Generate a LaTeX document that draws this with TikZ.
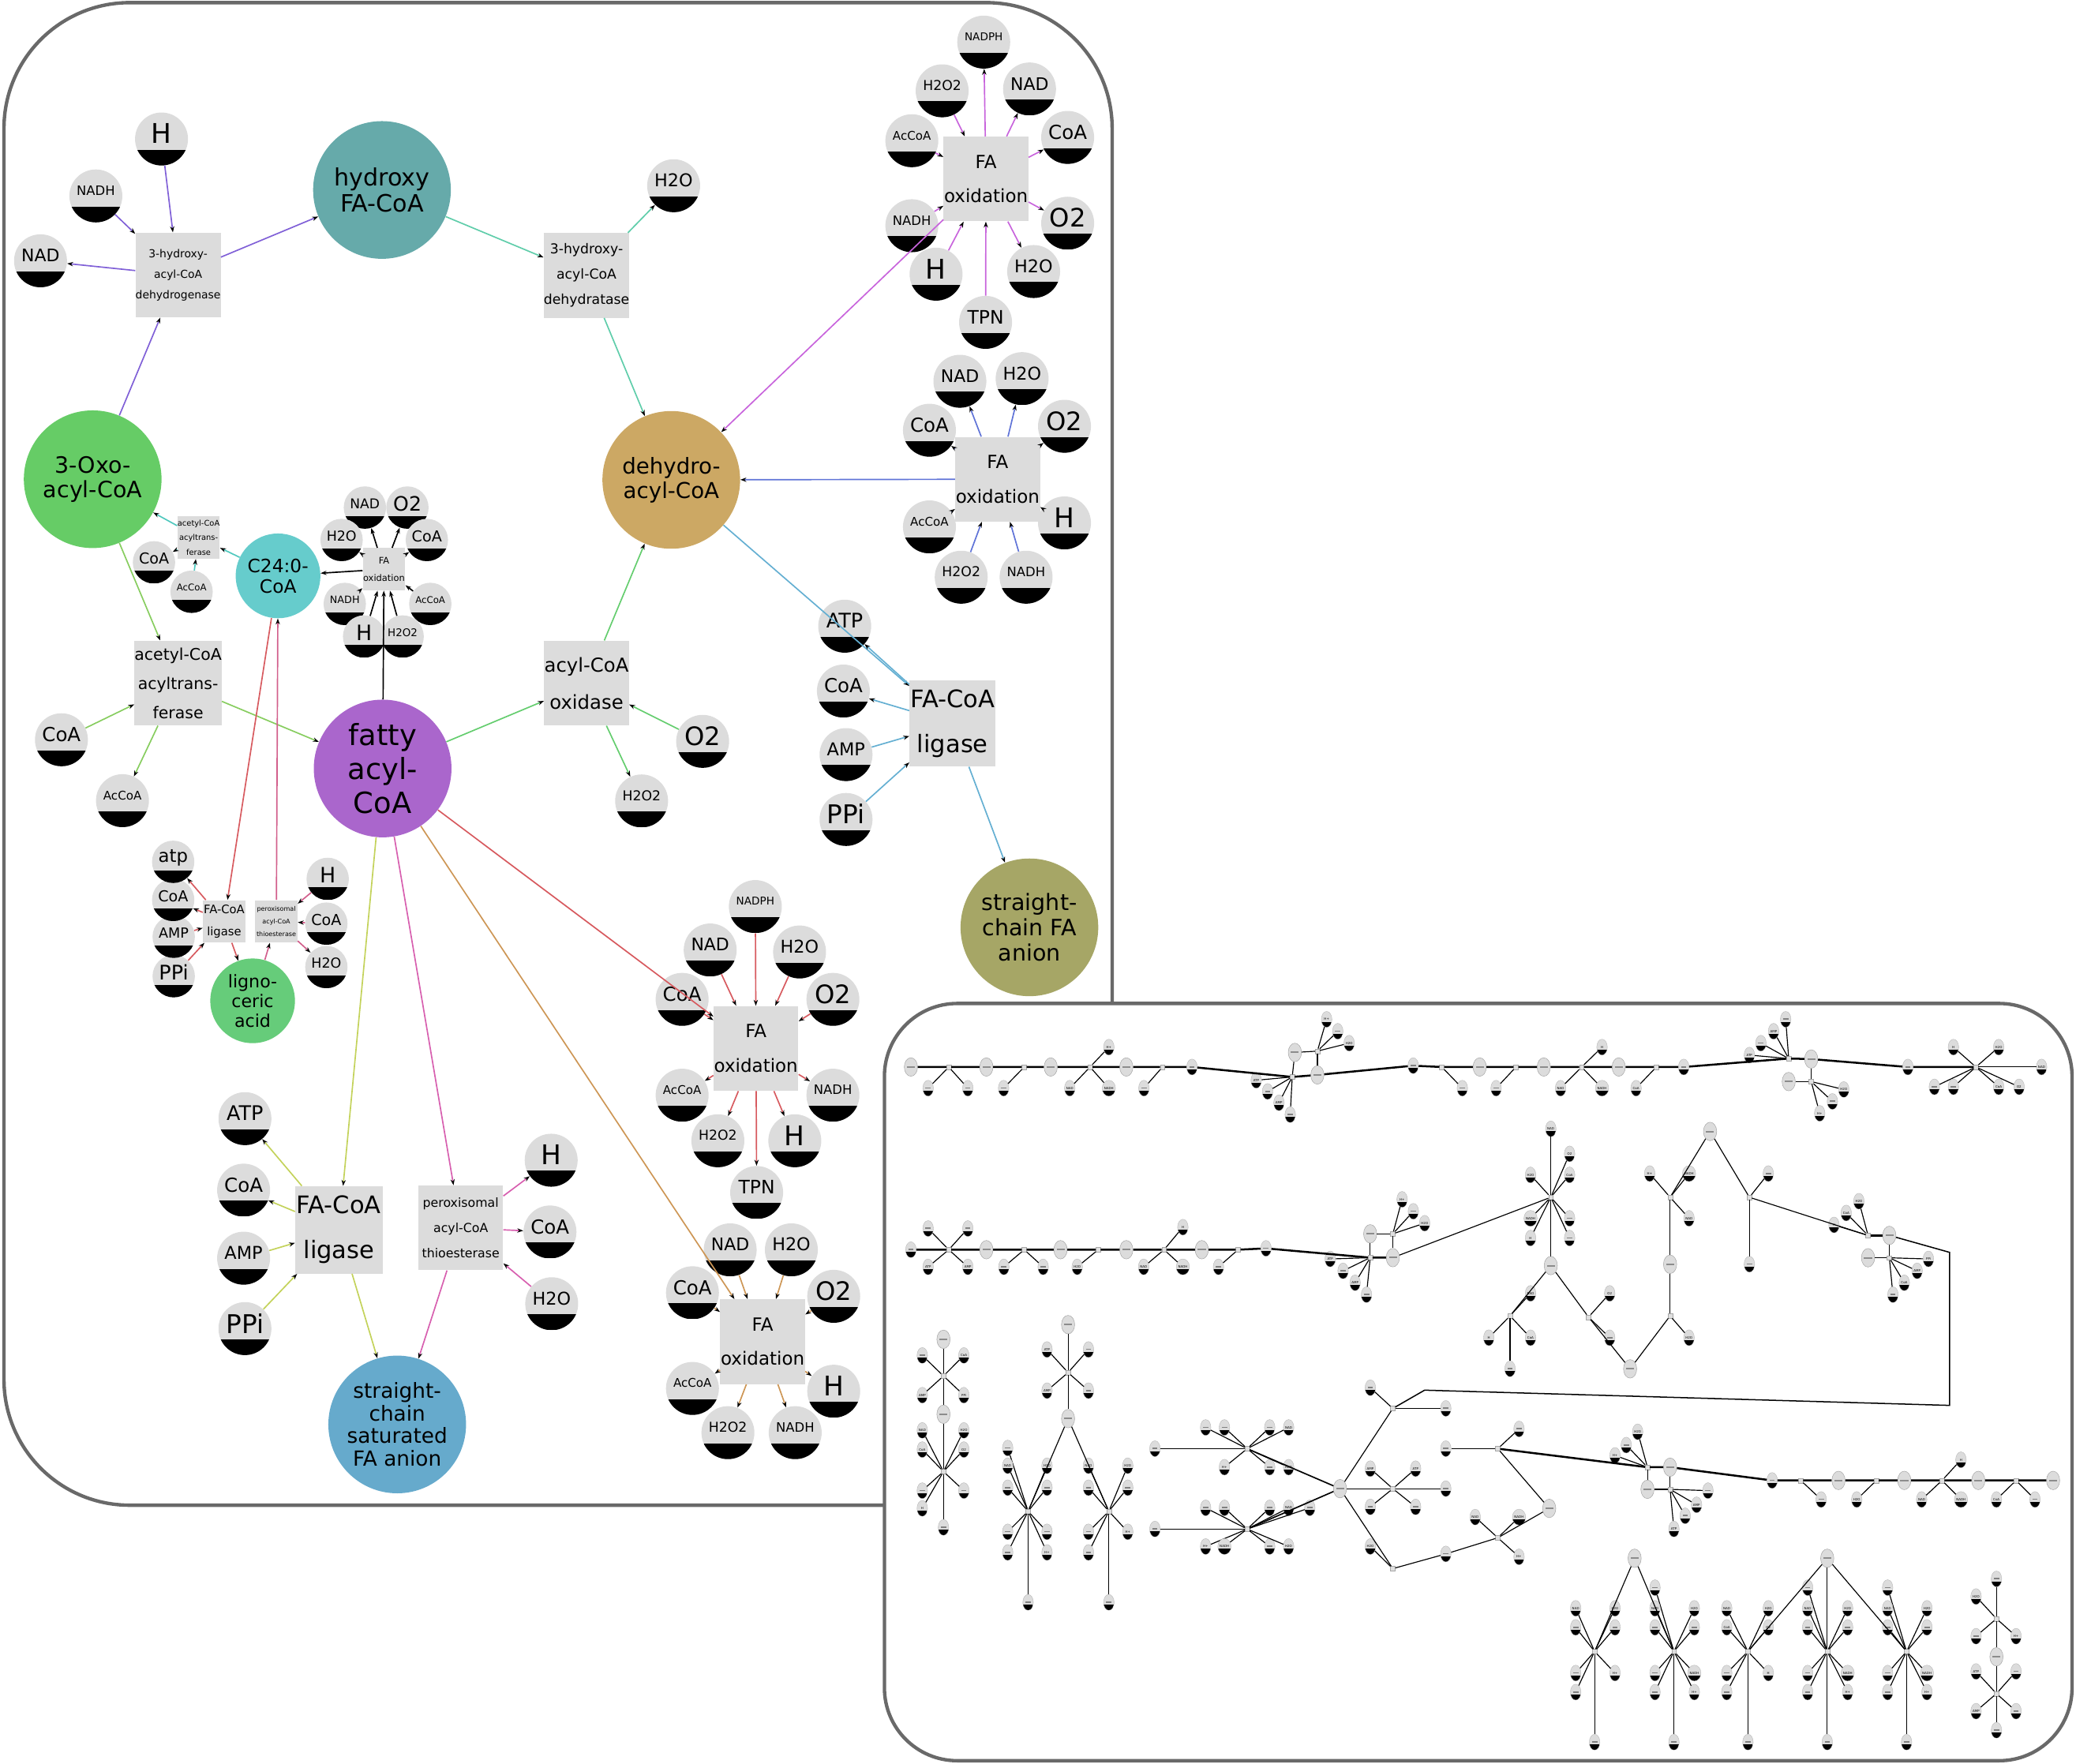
\documentclass[tikz,border=0pt]{standalone}
\usepackage{fontspec}
\setmainfont{DejaVu Sans}
\usetikzlibrary{shapes.geometric,arrows.meta,calc}
\definecolor{mgray}{RGB}{220,220,220}
\definecolor{frameg}{RGB}{105,105,105}
\definecolor{cHyd}{RGB}{102,170,170}
\definecolor{cOxo}{RGB}{102,204,102}
\definecolor{cDeh}{RGB}{204,168,100}
\definecolor{cFat}{RGB}{170,102,204}
\definecolor{cCtf}{RGB}{102,204,204}
\definecolor{cLig}{RGB}{102,204,122}
\definecolor{cAni}{RGB}{166,166,102}
\definecolor{cSat}{RGB}{102,170,204}
\definecolor{ePur}{RGB}{128,96,215}
\definecolor{eTeal}{RGB}{95,205,170}
\definecolor{eMag}{RGB}{200,100,220}
\definecolor{eBlue}{RGB}{95,115,215}
\definecolor{eLB}{RGB}{100,175,210}
\definecolor{eGreen}{RGB}{100,205,110}
\definecolor{eLG}{RGB}{135,205,95}
\definecolor{eTeal2}{RGB}{80,200,190}
\definecolor{eRed}{RGB}{215,90,95}
\definecolor{ePink}{RGB}{210,95,140}
\definecolor{ePink2}{RGB}{215,95,175}
\definecolor{eYG}{RGB}{195,210,90}
\definecolor{eOr}{RGB}{205,150,85}
\tikzset{
 blackbottom/.style={path picture={\fill[black] (path picture bounding box.south west) rectangle ($(path picture bounding box.east)!#1!(path picture bounding box.south east)$);}},
 met/.style={circle, fill=mgray, inner sep=0pt, minimum size=40pt, blackbottom=0.4},
 smet/.style={met, minimum size=32pt},
 mtext/.style={inner sep=0pt},
 big/.style={circle, inner sep=0pt, minimum size=104pt, align=center},
 rxn/.style={rectangle, fill=mgray, inner sep=0pt, minimum width=64pt, minimum height=64pt, align=center},
 srxn/.style={rxn, minimum width=32pt, minimum height=32pt},
 edg/.style={line width=1pt, -{Stealth[length=4.5pt,width=3.2pt,black]}},
 frame/.style={line width=2.6pt, draw=frameg},
 isat/.style={ellipse, fill=mgray, draw=gray!60, line width=0.2pt, inner sep=0pt, minimum width=8pt, minimum height=12pt, blackbottom=0.3, font=\fontsize{2.4}{2.4}\selectfont},
 imet/.style={ellipse, fill=mgray, draw=gray!70, line width=0.3pt, inner sep=0pt, minimum width=10pt, minimum height=14pt, path picture={\fill[gray!90] ($(path picture bounding box.center)+(-3pt,-0.6pt)$) rectangle ($(path picture bounding box.center)+(3pt,0.6pt)$);}},
 irx/.style={rectangle, fill=gray!25, draw=gray!70, line width=0.2pt, inner sep=0pt, minimum size=3.5pt},
 iedge/.style={line width=0.7pt, black},
 ichain/.style={line width=1.5pt, black},
}
\newcommand\Bq{\textcolor{gray}{\rule[0.3pt]{4pt}{1pt}}}
\newcommand\mt[5]{\node[met] (#1) at (#2,#3) {};\node[mtext,font=\fontsize{#5}{#5}\selectfont] (#1t) at ([yshift=4pt]#1.center) {#4};}
\newcommand\smt[5]{\node[smet] (#1) at (#2,#3) {};\node[mtext,font=\fontsize{#5}{#5}\selectfont] (#1t) at ([yshift=3pt]#1.center) {#4};}
\newcommand\conn[3]{\draw[edg,#1] (#2) -- (#3);}
\newcommand\hub[4]{%
 \node[irx] (#1) at (#2,#3) {};
 \foreach \sx/\sy/\sl [count=\k] in {#4}{%
  \node[isat] (#1s\k) at (\sx,\sy) {\sl};
  \draw[iedge] (#1) -- (#1s\k);
 }%
}
\begin{document}
\begin{tikzpicture}[x=1pt,y=-1pt]
\useasboundingbox (0,0) rectangle (1568,1332);
\draw[frame, rounded corners=95pt] (3,2) rectangle (840,1137);

% ---------- big metabolites
\node[big, fill=cHyd, font=\fontsize{18}{20}\selectfont] (hyd) at (288.5,143.5) {hydroxy\\FA-CoA};
\node[big, fill=cOxo, font=\fontsize{17}{18.5}\selectfont] (oxo) at (70,362) {3-Oxo-\\acyl-CoA};
\node[big, fill=cDeh, font=\fontsize{16.5}{18.5}\selectfont] (deh) at (507,362.5) {dehydro-\\acyl-CoA};
\node[big, fill=cFat, font=\fontsize{22}{25.5}\selectfont] (fat) at (289,580.5) {fatty\\acyl-\\CoA};
\node[big, minimum size=64pt, fill=cCtf, font=\fontsize{13.9}{15.5}\selectfont] (ctf) at (210,435) {C24:0-\\CoA};
\node[big, minimum size=64pt, fill=cLig, font=\fontsize{13.2}{15}\selectfont] (lig) at (190.8,756) {ligno-\\ceric\\acid};
\node[big, fill=cAni, font=\fontsize{17}{19}\selectfont] (ani) at (777.5,700.5) {straight-\\chain FA\\anion};
\node[big, fill=cSat, font=\fontsize{15.7}{17}\selectfont] (sat) at (300,1076) {straight-\\chain\\saturated\\FA anion};

% ---------- reactions
\node[rxn, font=\fontsize{8.3}{15.5}\selectfont] (r1) at (134.5,207.7) {3-hydroxy-\\acyl-CoA\\dehydrogenase};
\node[rxn, font=\fontsize{10.3}{19}\selectfont] (r2) at (443,208) {3-hydroxy-\\acyl-CoA\\dehydratase};
\node[rxn, font=\fontsize{13.7}{26}\selectfont] (r3) at (744.7,135.2) {FA\\oxidation};
\node[rxn, font=\fontsize{13.7}{26}\selectfont] (r4) at (753.5,362) {FA\\oxidation};
\node[rxn, minimum width=65pt, minimum height=65pt, font=\fontsize{18.2}{34}\selectfont] (r5) at (719.5,546.5) {FA-CoA\\ligase};
\node[rxn, font=\fontsize{14.5}{28}\selectfont] (r6) at (443,516) {acyl-CoA\\oxidase};
\node[rxn, font=\fontsize{12.2}{22}\selectfont] (r8) at (134.5,516) {acetyl-CoA\\acyltrans-\\ferase};
\node[rxn, minimum width=66pt, minimum height=66pt, font=\fontsize{18.2}{34}\selectfont] (r7) at (256,929) {FA-CoA\\ligase};
\node[rxn, font=\fontsize{9.4}{19}\selectfont] (r9) at (348,927.5) {peroxisomal\\acyl-CoA\\thioesterase};
\node[rxn, font=\fontsize{13.7}{26}\selectfont] (r14) at (571,792) {FA\\oxidation};
\node[rxn, font=\fontsize{13.7}{26}\selectfont] (r15) at (576,1013.5) {FA\\oxidation};
\node[srxn, font=\fontsize{6.8}{13}\selectfont] (r10) at (290,430) {FA\\oxidation};
\node[srxn, font=\fontsize{5.9}{11}\selectfont] (r11) at (150,406) {acetyl-CoA\\acyltrans-\\ferase};
\node[srxn, font=\fontsize{8.8}{17}\selectfont] (r12) at (169.3,696) {FA-CoA\\ligase};
\node[srxn, font=\fontsize{4.8}{9.5}\selectfont] (r13) at (208.7,696) {peroxisomal\\acyl-CoA\\thioesterase};

% ---------- small metabolites
\mt{aH}{122}{105}{H}{20.5}
\mt{aNADH}{72.4}{148}{NADH}{9.8}
\mt{aNAD}{30.6}{197}{NAD}{13.1}
\mt{bHHO}{508.8}{140.3}{H2O}{13.3}
% R3
\mt{cNADPH}{743}{31.8}{NADPH}{8.1}
\mt{cHOO}{711.6}{68.6}{H2O2}{10.3}
\mt{cNAD}{777.6}{67.2}{NAD}{13.1}
\mt{cAc}{688.7}{106.3}{AcCoA}{9}
\mt{cCoA}{806.4}{103.8}{CoA}{14.6}
\mt{cNADH}{688.7}{170.5}{NADH}{9.8}
\mt{cOO}{806.4}{168.6}{O2}{19.2}
\mt{cH}{707}{207.1}{H}{20.5}
\mt{cHHO}{780.7}{205.1}{H2O}{13.3}
\mt{cTPN}{744.4}{243.5}{TPN}{14}
% R4
\mt{dNAD}{725}{288}{NAD}{13.1}
\mt{dHHO}{772}{286}{H2O}{13.3}
\mt{dCoA}{702}{325}{CoA}{14.6}
\mt{dOO}{804}{322}{O2}{19.2}
\mt{dAc}{702}{398}{AcCoA}{9}
\mt{dH}{804}{395}{H}{20.5}
\mt{dHOO}{726}{436}{H2O2}{10.3}
\mt{dNADH}{775}{436}{NADH}{9.8}
% R5
\mt{eATP}{638}{473}{ATP}{15.2}
\mt{eCoA}{637}{522}{CoA}{14.6}
\mt{eAMP}{639}{570}{AMP}{13.4}
\mt{ePPi}{639}{619}{PPi}{19.5}
% R6
\mt{fOO}{530.7}{560}{O2}{19.2}
\mt{fHOO}{484.6}{605}{H2O2}{10.3}
% R8
\mt{gCoA}{46.4}{558.8}{CoA}{14.6}
\mt{gAc}{92.5}{604.8}{AcCoA}{9}
% R7
\mt{hATP}{185}{845}{ATP}{15.2}
\mt{hCoA}{184}{899}{CoA}{14.6}
\mt{hAMP}{184}{950.4}{AMP}{13.4}
\mt{hPPi}{185}{1003.6}{PPi}{19.5}
% R9
\mt{iH}{416.3}{876.4}{H}{20.5}
\mt{iCoA}{415.4}{930.6}{CoA}{14.6}
\mt{iHHO}{416.7}{984.8}{H2O}{13.3}
% R14
\mt{jNADPH}{570.5}{684.8}{NADPH}{8.1}
\mt{jNAD}{536.4}{717.6}{NAD}{13.1}
\mt{jHHO}{603.9}{719.1}{H2O}{13.3}
\mt{jCoA}{515.2}{754.9}{CoA}{14.6}
\mt{jOO}{629.1}{754.9}{O2}{19.2}
\mt{jAc}{515.2}{827.3}{AcCoA}{9}
\mt{jNADH}{629.1}{827.3}{NADH}{9.8}
\mt{jHOO}{542.2}{861.7}{H2O2}{10.3}
\mt{jH}{600.3}{861.7}{H}{20.5}
\mt{jTPN}{571.5}{900.8}{TPN}{14}
% R15
\mt{kNAD}{551.5}{944.1}{NAD}{13.1}
\mt{kHHO}{597.7}{944.1}{H2O}{13.3}
\mt{kCoA}{523}{976.5}{CoA}{14.6}
\mt{kOO}{629.7}{979.2}{O2}{19.2}
\mt{kAc}{523}{1048.8}{AcCoA}{9}
\mt{kH}{629.7}{1050.9}{H}{20.5}
\mt{kHOO}{549.8}{1082.2}{H2O2}{10.3}
\mt{kNADH}{600.6}{1082.2}{NADH}{9.8}
% R10 (small)
\smt{lNAD}{275.6}{383.4}{NAD}{10.2}
\smt{lOO}{307.7}{383.4}{O2}{15}
\smt{lHHO}{258}{407.9}{H2O}{10.4}
\smt{lCoA}{322.4}{407.9}{CoA}{11.4}
\smt{lNADH}{260.4}{456.2}{NADH}{7.6}
\smt{lAc}{325}{456.2}{AcCoA}{7}
\smt{lH}{275}{480.8}{H}{16}
\smt{lHOO}{304.1}{480.8}{H2O2}{8}
% R11
\smt{mCoA}{116.3}{424.8}{CoA}{11.4}
\smt{mAc}{144.7}{447}{AcCoA}{7}
% R12
\smt{nPPi}{131.2}{737.4}{PPi}{15.2}
\smt{nAMP}{131.2}{707.6}{AMP}{10.5}
\smt{nCoA}{130.8}{679.8}{CoA}{11.4}
\smt{natp}{130.8}{651}{atp}{13.6}
% R13
\smt{oH}{247.5}{663.9}{H}{16}
\smt{oCoA}{246.5}{697.7}{CoA}{11.4}
\smt{oHHO}{246.5}{730.5}{H2O}{10.4}

% ---------- edges
\conn{ePur}{aH}{r1}
\conn{ePur}{aNADH}{r1}
\conn{ePur}{r1}{aNAD}
\conn{ePur}{oxo}{r1}
\conn{ePur}{r1}{hyd}
\conn{eTeal}{hyd}{r2}
\conn{eTeal}{r2}{bHHO}
\conn{eTeal}{r2}{deh}
% R3
\conn{eMag}{r3}{deh}
\conn{eMag}{r3}{cNADPH}
\conn{eMag}{cHOO}{r3}
\conn{eMag}{r3}{cNAD}
\conn{eMag}{cAc}{r3}
\conn{eMag}{r3}{cCoA}
\conn{eMag}{cNADH}{r3}
\conn{eMag}{r3}{cOO}
\conn{eMag}{cH}{r3}
\conn{eMag}{r3}{cHHO}
\conn{eMag}{cTPN}{r3}
% R4
\conn{eBlue}{r4}{deh}
\conn{eBlue}{r4}{dNAD}
\conn{eBlue}{r4}{dHHO}
\conn{eBlue}{r4}{dCoA}
\conn{eBlue}{r4}{dOO}
\conn{eBlue}{dAc}{r4}
\conn{eBlue}{dH}{r4}
\conn{eBlue}{dHOO}{r4}
\conn{eBlue}{dNADH}{r4}
% R5
\conn{eLB}{deh}{r5}
\conn{eLB}{r5}{eATP}
\conn{eLB}{r5}{eCoA}
\conn{eLB}{eAMP}{r5}
\conn{eLB}{ePPi}{r5}
\conn{eLB}{r5}{ani}
% R6
\conn{eGreen}{fat}{r6}
\conn{eGreen}{r6}{deh}
\conn{eGreen}{fOO}{r6}
\conn{eGreen}{r6}{fHOO}
% R8
\conn{eLG}{oxo}{r8}
\conn{eLG}{r8}{fat}
\conn{eLG}{gCoA}{r8}
\conn{eLG}{r8}{gAc}
% R11
\conn{eTeal2}{ctf}{r11}
\conn{eTeal2}{r11}{oxo}
\conn{eTeal2}{r11}{mCoA}
\conn{eTeal2}{mAc}{r11}
% R10
\conn{black}{fat}{r10}
\conn{black}{r10}{ctf}
\conn{black}{r10}{lNAD}
\conn{black}{r10}{lOO}
\conn{black}{r10}{lHHO}
\conn{black}{r10}{lCoA}
\conn{black}{lAc}{r10}
\conn{black}{lNADH}{r10}
\conn{black}{lH}{r10}
\conn{black}{lHOO}{r10}
% R12
\conn{eRed}{ctf}{r12}
\conn{eRed}{r12}{lig}
\conn{eRed}{r12}{natp}
\conn{eRed}{r12}{nCoA}
\conn{eRed}{nAMP}{r12}
\conn{eRed}{nPPi}{r12}
% R13
\conn{ePink}{r13}{ctf}
\conn{ePink}{lig}{r13}
\conn{ePink}{oH}{r13}
\conn{ePink}{oCoA}{r13}
\conn{ePink}{r13}{oHHO}
% R14
\conn{eRed}{fat}{r14}
\conn{eRed}{jNADPH}{r14}
\conn{eRed}{jNAD}{r14}
\conn{eRed}{jHHO}{r14}
\conn{eRed}{jOO}{r14}
\conn{eRed}{jCoA}{r14}
\conn{eRed}{r14}{jAc}
\conn{eRed}{r14}{jNADH}
\conn{eRed}{r14}{jHOO}
\conn{eRed}{r14}{jH}
\conn{eRed}{r14}{jTPN}
% R15
\conn{eOr}{fat}{r15}
\conn{eOr}{kNAD}{r15}
\conn{eOr}{kHHO}{r15}
\conn{eOr}{kCoA}{r15}
\conn{eOr}{kOO}{r15}
\conn{eOr}{r15}{kAc}
\conn{eOr}{r15}{kHOO}
\conn{eOr}{r15}{kNADH}
\conn{eOr}{r15}{kH}
% R7
\conn{eYG}{fat}{r7}
\conn{eYG}{r7}{hATP}
\conn{eYG}{r7}{hCoA}
\conn{eYG}{hAMP}{r7}
\conn{eYG}{hPPi}{r7}
\conn{eYG}{r7}{sat}
% R9
\conn{ePink2}{fat}{r9}
\conn{ePink2}{r9}{iH}
\conn{ePink2}{r9}{iCoA}
\conn{ePink2}{iHHO}{r9}
\conn{ePink2}{r9}{sat}

% ================= inset
\draw[frame, fill=white, rounded corners=55pt] (668,758) rectangle (1565,1330);
% row 1
\node[imet] (a1) at (688,806) {};
\hub{ar1}{716.6}{806}{701/822/\Bq, 731/822/\Bq}
\node[imet] (a2) at (745,806) {};
\hub{ar2}{773.6}{806}{758/822/\Bq}
\node[imet] (a3) at (793.6,806) {};
\hub{ar3}{823.3}{806}{837.5/791/H+, 808/822/NAD, 837.5/822/NADH}
\node[imet] (a4) at (850.7,806) {};
\hub{ar4}{878}{806}{864/822/\Bq}
\node[isat] (a5) at (900.3,806) {\Bq};
\hub{hA}{976}{813.5}{948.8/816/ATP, 957.4/824.5/\Bq, 966/833/AMP, 974.5/842/\Bq}
\node[imet] (a6) at (995,812) {};
\node[imet] (a7) at (978,795) {};
\hub{hAb}{995}{794}{1002/770/H+, 1010.4/779/\Bq, 1019/788/H2O}
\node[isat] (a8) at (1067.4,805) {\Bq};
\draw[ichain] (a1) -- (ar1) -- (a2) -- (ar2) -- (a3) -- (ar3) -- (a4) -- (ar4) -- (a5) -- (hA) -- (a6) -- (a8);
\draw[iedge] (hA) -- (a7);
\draw[iedge] (hAb) -- (a7);
\draw[iedge] (hAb) -- (a6);
\hub{br1}{1089}{806}{1104.5/822/\Bq}
\node[imet] (b1) at (1117.6,806) {};
\hub{br2}{1145}{806}{1130/822/\Bq}
\node[imet] (b2) at (1166,806) {};
\hub{br3}{1194.6}{806}{1210/791/H, 1178.7/822/NAD, 1210/822/NADH}
\node[imet] (b3) at (1222.6,806) {};
\hub{br4}{1251}{806}{1235.7/822/CoA}
\node[isat] (b4) at (1271.7,806) {\Bq};
\hub{hB}{1351}{799.6}{1321.3/797/ATP, 1330/788/\Bq, 1339.6/779/AMP, 1348.7/770/\Bq}
\node[imet] (b5) at (1368,800) {};
\node[imet] (b6) at (1351,817) {};
\hub{hBb}{1368}{817}{1392.6/823/H2O, 1384/832/\Bq, 1374.4/841/H+}
\node[isat] (c0) at (1441,806) {\Bq};
\hub{hC}{1492.4}{806}{1475.4/791/H, 1509.6/791/H2O, 1542/806/NAD, 1461/821/\Bq, 1475.4/821/\Bq, 1509.6/821/CoA, 1525/821/O2}
\draw[ichain] (a8) -- (br1) -- (b1) -- (br2) -- (b2) -- (br3) -- (b3) -- (br4) -- (b4) -- (hB) -- (b5) -- (c0) -- (hC);
\draw[iedge] (hBb) -- (b5);
\draw[iedge] (hBb) -- (b6);
% row 2
\node[isat] (d1) at (688,944) {\Bq};
\hub{dr1}{716.6}{944}{701/928/\Bq, 731/928/\Bq, 701/957/ATP, 731/957/AMP}
\node[imet] (d2) at (745,944) {};
\hub{dr2}{773.6}{944}{758.2/957/\Bq, 787.9/957/\Bq}
\node[imet] (d3) at (801,944) {};
\hub{dr3}{829.5}{944}{813.6/957/H2O}
\node[imet] (d4) at (850.7,944) {};
\hub{dr4}{879.2}{944}{893.4/927/H, 863.8/957/NAD, 893.4/957/NADH}
\node[imet] (d5) at (907.7,944) {};
\hub{dr5}{935.1}{944}{920.3/957/\Bq}
\node[isat] (d6) at (956.2,943) {\Bq};
\hub{hD}{1034.9}{950}{1004.7/951/ATP, 1014.4/960/\Bq, 1023.5/969/AMP, 1032.1/978/\Bq}
\node[imet] (d7) at (1034.9,932) {};
\node[imet] (d8) at (1052,950) {};
\hub{hDb}{1052}{932}{1059/906/H+, 1067.5/915/\Bq, 1076/924/H2O}
\draw[ichain] (d1) -- (dr1) -- (d2) -- (dr2) -- (d3) -- (dr3) -- (d4) -- (dr4) -- (d5) -- (dr5) -- (d6) -- (hD) -- (d8);
\draw[iedge] (hD) -- (d7);
\draw[iedge] (hDb) -- (d7);
\draw[iedge] (hDb) -- (d8);
\hub{hE}{1171.3}{904.4}{1171.3/852.7/NAD, 1185.5/871.6/O2, 1156/887.5/H2O, 1185.5/887.5/CoA, 1156/920.3/NADH, 1185.5/920.3/\Bq, 1156/935.2/H, 1185.5/935.2/\Bq}
\node[imet] (e1) at (1171.3,956) {};
\hub{er1}{1140.5}{994}{1156/977/NAD, 1124.5/1010.5/H, 1156/1010.5/CoA, 1140.5/1034/\Bq}
\hub{er2}{1199.8}{994.9}{1215.8/977/O2, 1215.8/1010.5/\Bq}
\node[imet] (e2) at (1231.2,1034) {};
\hub{er3}{1261.4}{994}{1275.7/1010.5/H2O}
\node[imet] (e3) at (1261.4,955) {};
\hub{er4}{1261.4}{904.4}{1246/886.5/H+, 1275.7/886.5/NADH, 1275.7/920.3/NAD}
\node[imet] (e4) at (1291.6,854.7) {};
\hub{er5}{1321.3}{904.4}{1335.6/886.5/\Bq}
\node[isat] (e5) at (1321.3,955) {\Bq};
\hub{hF}{1410.9}{933.2}{1404/907.4/H2O, 1394.4/916.3/CoA, 1385.2/925.3/H}
\node[imet] (e6) at (1427,933.2) {};
\node[imet] (e7) at (1410.9,950.1) {};
\hub{hFb}{1427}{950.1}{1456.5/951/PPi, 1448/960/AMP, 1438.3/969/CoA, 1429.7/978/\Bq}
\draw[iedge] (d8) -- (hE);
\draw[iedge] (hE) -- (e1);
\draw[iedge] (e1) -- (er1);
\draw[iedge] (e1) -- (er2);
\draw[iedge] (er2) -- (e2);
\draw[iedge] (e2) -- (er3);
\draw[iedge] (er3) -- (e3);
\draw[iedge] (e3) -- (er4);
\draw[iedge] (er4) -- (e4);
\draw[iedge] (e4) -- (er5);
\draw[iedge] (er5) -- (e5);
\draw[iedge] (er5) -- (hF);
\draw[ichain] (hF) -- (e6);
\draw[iedge] (hFb) -- (e6);
\draw[iedge] (hFb) -- (e7);
% row 3
\hub{fr0}{1052}{1063.9}{1035/1048.3/\Bq, 1092/1063.9/\Bq}
\coordinate (k1) at (1472.5,946);
\coordinate (k2) at (1472.5,1061.6);
\coordinate (k3) at (1076,1050.1);
\draw[iedge, line width=0.9pt] (e6) -- (k1) -- (k2) -- (k3) -- (fr0);
\node[imet] (f1) at (1012.1,1124.5) {};
\hub{hG}{942}{1094.3}{872.3/1094.3/\Bq, 910.6/1078.3/\Bq, 924.8/1078.3/\Bq, 959/1078.3/\Bq, 973.3/1078.3/NAD, 924.8/1108.3/H+, 959/1108.3/\Bq, 973.3/1108.3/H2O}
\hub{hH}{942}{1155}{872.3/1155/\Bq, 910.6/1139/\Bq, 924.8/1139/\Bq, 959/1139/\Bq, 973.3/1139/NAD, 989.3/1139/\Bq, 910.6/1168.2/H+, 924.8/1168.2/NADH, 959/1168.2/\Bq, 973.3/1168.2/H2O}
\hub{fr1}{1052}{1124.5}{1035/1109.4/AMP, 1069.2/1109.4/ATP, 1092/1124.5/\Bq, 1035/1138.3/\Bq, 1069.2/1138.3/\Bq}
\hub{fr2}{1052}{1184.9}{1035/1168.2/H2O}
\node[isat] (f2) at (1092,1173.8) {\Bq};
\hub{fr3}{1131.3}{1161.6}{1114.2/1146/NAD, 1147.3/1146/NADH, 1147.3/1176/H+}
\node[imet] (f3) at (1170.1,1139.4) {};
\hub{fr4}{1131.3}{1094.3}{1092/1094.3/\Bq, 1147.3/1079.4/\Bq}
\hub{hI}{1244.3}{1108.3}{1236.9/1081.6/H2O, 1228.3/1091.6/\Bq, 1219.8/1099.4/H+}
\node[imet] (g1) at (1261.4,1108.3) {};
\node[imet] (g2) at (1244.3,1125) {};
\hub{hIb}{1261.4}{1125}{1290/1126/\Bq, 1281.4/1136.7/AMP, 1272.8/1145/\Bq, 1264.3/1155/ATP}
\node[isat] (g3) at (1338.5,1118.3) {\Bq};
\hub{gr1}{1360.1}{1118.3}{1375.5/1132.7/\Bq}
\node[imet] (g4) at (1388.6,1118.3) {};
\hub{gr2}{1417.2}{1118.3}{1402.4/1132.7/H2O}
\node[imet] (g5) at (1438.3,1118.3) {};
\hub{gr3}{1466.8}{1118.3}{1451.4/1132.7/NAD, 1481.1/1132.7/NADH, 1481.1/1102.7/H}
\node[imet] (g6) at (1494.2,1118.3) {};
\hub{gr4}{1522.7}{1118.3}{1507.9/1132.7/CoA, 1537/1132.7/\Bq}
\node[imet] (g7) at (1550.7,1118.3) {};
\draw[iedge] (fr0) -- (f1);
\draw[iedge, line width=1pt] (hG) -- (f1);
\draw[iedge, line width=1pt] (hH) -- (f1);
\draw[iedge] (f1) -- (fr1);
\draw[iedge] (f1) -- (fr2);
\draw[iedge] (fr2) -- (f2);
\draw[iedge] (f2) -- (fr3);
\draw[iedge] (fr3) -- (f3);
\draw[iedge] (f3) -- (fr4);
\draw[iedge] (hI) -- (g2);
\draw[iedge] (hIb) -- (g1);
\draw[iedge] (hIb) -- (g2);
\draw[ichain] (fr4) -- (hI) -- (g1) -- (g3) -- (gr1) -- (g4) -- (gr2) -- (g5) -- (gr3) -- (g6) -- (gr4) -- (g7);
% left clusters
\node[imet] (l1) at (712.6,1011.7) {};
\hub{hJ}{712.6}{1039.4}{696.6/1023.9/\Bq, 728/1023.9/CoA, 696.6/1053.9/AMP, 728/1053.9/PPi}
\node[imet] (l2) at (712.6,1068.3) {};
\hub{hK}{712.6}{1111.6}{696.6/1080.5/NAD, 728/1080.5/H2O, 696.6/1095/CoA, 728/1095/O2, 696.6/1126/\Bq, 728/1126/\Bq, 696.6/1139.4/H, 712.6/1153.8/\Bq}
\draw[iedge] (l1) -- (hJ);
\draw[iedge] (hJ) -- (l2);
\draw[iedge] (l2) -- (hK);
\node[imet] (l3) at (806.7,1000.6) {};
\hub{hL}{806.7}{1036.8}{790.8/1019.4/ATP, 822.1/1019.4/\Bq, 790.8/1050.5/AMP, 822.1/1050.5/\Bq}
\node[imet] (l4) at (806.7,1071.6) {};
\hub{hM}{776.5}{1141.6}{761.1/1093.8/\Bq, 761.1/1107.2/NAD, 790.8/1107.2/H2O, 761.1/1123.8/\Bq, 790.8/1123.8/\Bq, 761.1/1157.1/\Bq, 790.8/1157.1/\Bq, 761.1/1172.7/\Bq, 790.8/1172.7/H+, 776.5/1210.4/\Bq}
\hub{hN}{837.5}{1141.6}{822.1/1107.2/NAD, 851.8/1107.2/H2O, 822.1/1123.8/\Bq, 851.8/1123.8/\Bq, 822.1/1157.1/\Bq, 851.8/1157.1/H+, 822.1/1172.7/\Bq, 837.5/1210.4/\Bq}
\draw[iedge] (l3) -- (hL);
\draw[iedge] (hL) -- (l4);
\draw[iedge] (l4) -- (hM);
\draw[iedge] (l4) -- (hN);
% bottom right clusters
\node[imet] (ma) at (1234.6,1177.1) {};
\node[imet] (mb) at (1380.1,1177.1) {};
\hub{hO}{1204.4}{1247.5}{1190.1/1214.9/NAD, 1219.8/1214.9/H2O, 1190.1/1229.3/\Bq, 1219.8/1229.3/\Bq, 1190.1/1263.8/\Bq, 1219.8/1263.8/H+, 1190.1/1278.2/\Bq, 1204.4/1316/\Bq}
\hub{hP}{1264.3}{1247.5}{1250/1199.3/\Bq, 1250/1214.9/NAD, 1279.7/1214.9/H2O, 1250/1229.3/\Bq, 1279.7/1229.3/\Bq, 1250/1263.8/\Bq, 1279.7/1263.8/NADH, 1250/1278.2/\Bq, 1279.7/1278.2/H+, 1264.3/1316/\Bq}
\hub{hQ}{1320.2}{1247.5}{1304.2/1214.9/NAD, 1335.6/1214.9/H2O, 1304.2/1229.3/CoA, 1335.6/1229.3/O2, 1304.2/1263.8/\Bq, 1335.6/1263.8/H, 1304.2/1278.2/\Bq, 1320.2/1316/\Bq}
\hub{hR}{1380.1}{1247.5}{1365.3/1199.3/\Bq, 1365.3/1214.9/NAD, 1395.5/1214.9/H2O, 1365.3/1229.3/\Bq, 1395.5/1229.3/\Bq, 1365.3/1263.8/\Bq, 1395.5/1263.8/NADH, 1365.3/1278.2/\Bq, 1395.5/1278.2/H+, 1380.1/1316/\Bq}
\hub{hS}{1440}{1247.5}{1425.7/1199.3/\Bq, 1425.7/1214.9/NAD, 1455.4/1214.9/H2O, 1425.7/1229.3/\Bq, 1455.4/1229.3/\Bq, 1425.7/1263.8/\Bq, 1455.4/1263.8/NADH, 1425.7/1278.2/\Bq, 1455.4/1278.2/H+, 1440/1316/\Bq}
\draw[iedge] (ma) -- (hO);
\draw[iedge] (ma) -- (hP);
\draw[iedge] (mb) -- (hQ);
\draw[iedge] (mb) -- (hR);
\draw[iedge] (mb) -- (hS);
\node[isat] (n1) at (1507.9,1192.7) {\Bq};
\hub{hT}{1507.9}{1222.7}{1492.5/1206/H2O, 1492.5/1236/\Bq, 1522.7/1236/H+}
\node[imet] (n2) at (1507.9,1251.5) {};
\hub{hU}{1507.9}{1279.3}{1492.5/1262.6/ATP, 1522.7/1262.6/\Bq, 1492.5/1292.6/AMP, 1522.7/1292.6/\Bq, 1507.9/1307/\Bq}
\draw[iedge] (n1) -- (hT);
\draw[iedge] (hT) -- (n2);
\draw[iedge] (n2) -- (hU);
\end{tikzpicture}
\end{document}
